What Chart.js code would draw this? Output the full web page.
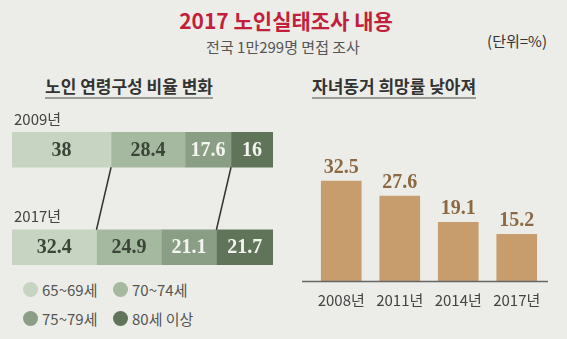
<!DOCTYPE html>
<html>
<head>
<meta charset="utf-8">
<script src="https://cdn.jsdelivr.net/npm/chart.js@4"></script>
<style>
  html, body { margin: 0; padding: 0; }
  body {
    width: 567px; height: 339px; position: relative; overflow: hidden;
    background: #ecede8; font-family: "Noto Sans CJK KR", sans-serif; color: #444;
  }
  .t { position: absolute; white-space: nowrap; line-height: 1; }
  .title { left: 286px; top: 20px; transform: translate(-50%, -50%); font-size: 21px; font-weight: bold; color: #c21f3c; }
  .sub { left: 283px; top: 46px; transform: translate(-50%, -50%); font-size: 15px; color: #555; }
  .unit { right: 20px; top: 33px; font-size: 15px; color: #333; }
  .head { top: 77px; font-size: 17px; font-weight: bold; color: #333; padding-bottom: 3px; border-bottom: 2px solid #9c9c9a; }
  .legend { position: absolute; font-size: 15px; color: #555; display: flex; align-items: center; }
  .legend i { display: inline-block; width: 15px; height: 15px; border-radius: 50%; margin-right: 4px; }
  canvas { position: absolute; }
</style>
</head>
<body>
<div class="t title">2017 노인실태조사 내용</div>
<div class="t sub">전국 1만299명 면접 조사</div>
<div class="t unit">(단위=%)</div>
<div class="t head" style="left:45px">노인 연령구성 비율 변화</div>
<div class="t head" style="left:312px">자녀동거 희망률 낮아져</div>
<div id="legend"></div>
<canvas id="ageChart" width="290" height="200" style="left:0;top:100px"></canvas>
<canvas id="liveChart" width="277" height="239" style="left:290px;top:100px"></canvas>
<script>
// 노인 연령구성 (%)
const surveyYears = ["2009년", "2017년"];
const ageGroups = ["65~69세", "70~74세", "75~79세", "80세 이상"];
const age6569 = [38, 32.4];
const age7074 = [28.4, 24.9];
const age7579 = [17.6, 21.1];
const age80 = [16, 21.7];
const ageColors = ["#c6d4c1", "#a5b8a0", "#8a9e85", "#607459"];
const ageTextColors = ["#3a4538", "#3a4538", "#f4f5f0", "#f4f5f0"];

// 자녀동거 희망률 (%)
const liveYears = ["2008년", "2011년", "2014년", "2017년"];
const liveRates = [32.5, 27.6, 19.1, 15.2];

const serif = "bold 20px 'Liberation Serif', serif";
const sans = "15px 'Noto Sans CJK KR', sans-serif";

// legend
const legendPos = [[23, 279], [113, 279], [23, 308], [113, 308]];
ageGroups.forEach((g, i) => {
    const d = document.createElement("div");
    d.className = "legend";
    d.style.left = legendPos[i][0] + "px";
    d.style.top = legendPos[i][1] + "px";
    d.innerHTML = '<i style="background:' + ageColors[i] + '"></i>' + g;
    document.getElementById("legend").appendChild(d);
});

const ageLabels = {
    id: "ageLabels",
    afterDatasetsDraw(chart) {
        const ctx = chart.ctx;
        ctx.save();
        // segment values
        ctx.font = serif;
        ctx.textAlign = "center";
        ctx.textBaseline = "middle";
        chart.data.datasets.forEach((ds, di) => {
            chart.getDatasetMeta(di).data.forEach((bar, i) => {
                ctx.fillStyle = ageTextColors[di];
                ctx.fillText(String(ds.data[i]), (bar.x + bar.base) / 2, bar.y + 1);
            });
        });
        // year labels above each bar
        ctx.font = sans;
        ctx.fillStyle = "#444";
        ctx.textAlign = "left";
        const first = chart.getDatasetMeta(0).data;
        first.forEach((bar, i) => {
            ctx.fillText(chart.data.labels[i], chart.chartArea.left + 2, bar.y - bar.height / 2 - 13);
        });
        // connectors between matching boundaries
        ctx.strokeStyle = "#333";
        ctx.lineWidth = 1.5;
        [0, 2].forEach(di => {
            const bars = chart.getDatasetMeta(di).data;
            ctx.beginPath();
            ctx.moveTo(bars[0].x, bars[0].y + bars[0].height / 2);
            ctx.lineTo(bars[1].x, bars[1].y - bars[1].height / 2);
            ctx.stroke();
        });
        ctx.restore();
    }
};

new Chart(document.getElementById("ageChart"), {
    type: "bar",
    data: {
        labels: surveyYears,
        datasets: [age6569, age7074, age7579, age80].map((d, i) => ({
            label: ageGroups[i],
            data: d,
            backgroundColor: ageColors[i],
            borderWidth: 0,
            barThickness: 35,
        })),
    },
    options: {
        indexAxis: "y",
        responsive: false,
        animation: false,
        layout: { padding: { left: 12, right: 17, top: 1, bottom: 4 } },
        scales: {
            x: { stacked: true, min: 0, max: 100.1, display: false },
            y: { stacked: true, display: false },
        },
        plugins: { legend: { display: false }, tooltip: { enabled: false } },
    },
    plugins: [ageLabels],
});

const liveLabels = {
    id: "liveLabels",
    afterDatasetsDraw(chart) {
        const ctx = chart.ctx;
        const area = chart.chartArea;
        ctx.save();
        // baseline
        ctx.strokeStyle = "#666";
        ctx.lineWidth = 1.5;
        ctx.beginPath();
        ctx.moveTo(area.left - 10, area.bottom + 0.5);
        ctx.lineTo(area.right + 2, area.bottom + 0.5);
        ctx.stroke();
        ctx.textAlign = "center";
        chart.getDatasetMeta(0).data.forEach((bar, i) => {
            ctx.font = "bold 20px 'Liberation Serif', serif";
            ctx.fillStyle = "#8c6843";
            ctx.textBaseline = "alphabetic";
            ctx.fillText(String(liveRates[i]), bar.x, bar.y - 8);
            ctx.font = sans;
            ctx.fillStyle = "#444";
            ctx.textBaseline = "middle";
            ctx.fillText(chart.data.labels[i], bar.x, area.bottom + 19);
        });
        ctx.restore();
    }
};

new Chart(document.getElementById("liveChart"), {
    type: "bar",
    data: {
        labels: liveYears,
        datasets: [{
            label: "자녀동거 희망률",
            data: liveRates,
            backgroundColor: "#c89d6e",
            borderWidth: 0,
            barThickness: 40,
        }],
    },
    options: {
        responsive: false,
        animation: false,
        layout: { padding: { left: 22, right: 21, top: 58, bottom: 58 } },
        scales: {
            x: { display: false },
            y: { min: 0, max: 40, display: false },
        },
        plugins: { legend: { display: false }, tooltip: { enabled: false } },
    },
    plugins: [liveLabels],
});
</script>
</body>
</html>
